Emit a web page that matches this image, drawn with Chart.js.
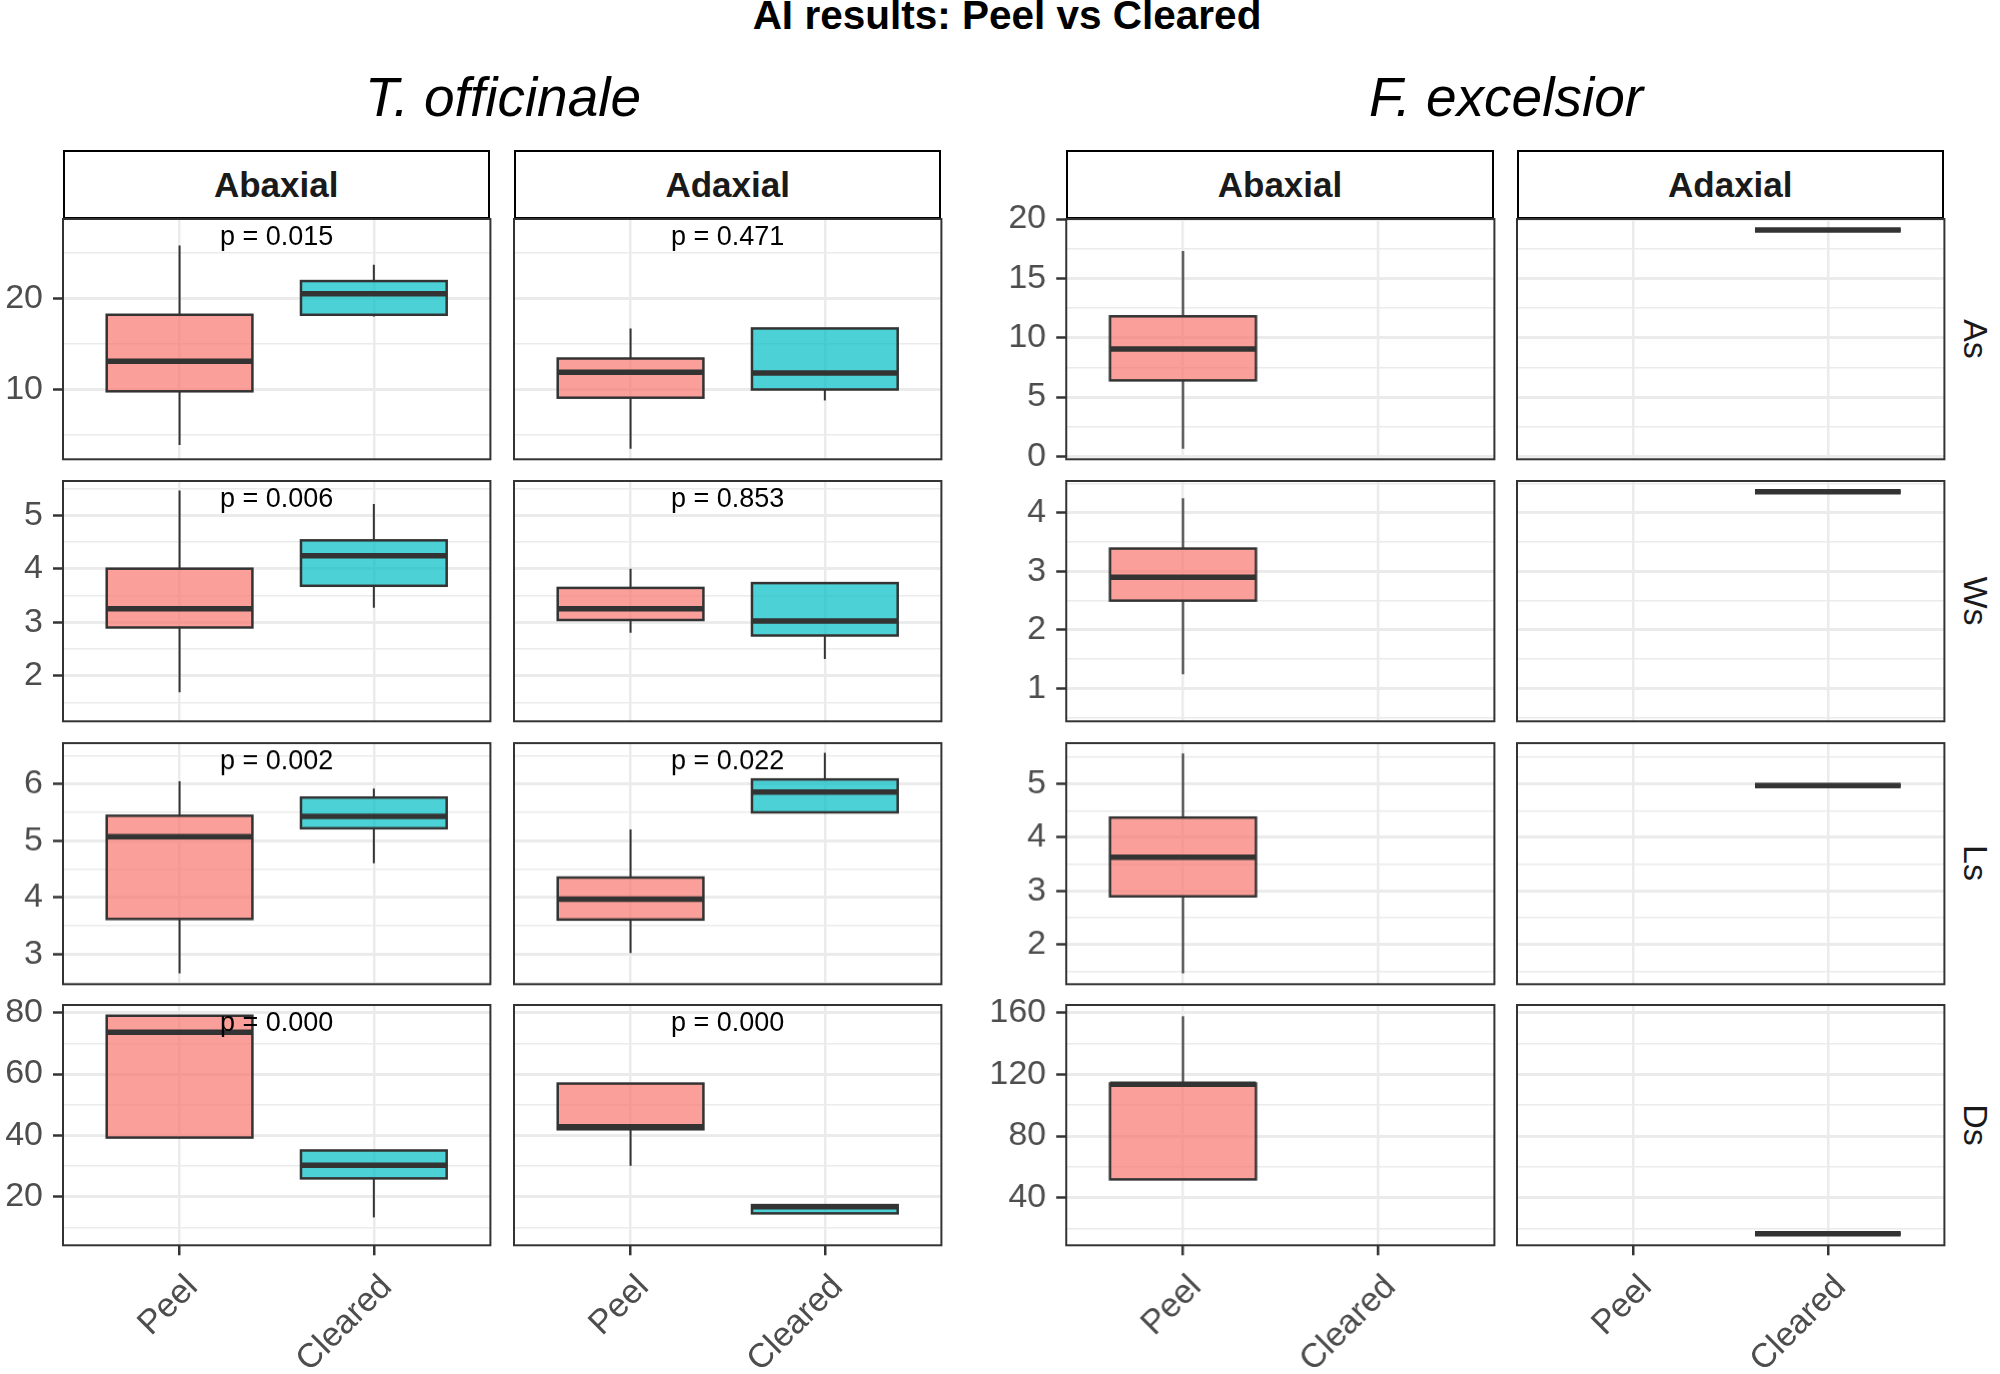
<!DOCTYPE html>
<html>
<head>
<meta charset="utf-8">
<title>AI results: Peel vs Cleared</title>
<script src="https://cdn.jsdelivr.net/npm/chart.js"></script>
<style>
  body { margin: 0; width: 2000px; height: 1374px; position: relative; overflow: hidden; background: #fff;
         font-family: "Liberation Sans", Arial, sans-serif; }
  .cell { position: absolute; }
  .txt { position: absolute; line-height: 1; white-space: nowrap; transform: translateX(-50%); }
  .strip { position: absolute; box-sizing: border-box; top: 150px; height: 69px; background: #fff;
           border: 2px solid #000; border-bottom-width: 2px; color: #1a1a1a; font-weight: bold; font-size: 35px;
           display: flex; align-items: center; justify-content: center; }
  .rowlab { position: absolute; font-size: 34px; color: #1a1a1a; line-height: 1; white-space: nowrap;
            transform: translate(-50%, -50%) rotate(90deg); }
</style>
</head>
<body>
<div class="txt" style="left:1007px; top:-5px; font-size:40.5px; font-weight:bold; color:#000;">AI results: Peel vs Cleared</div>
<div class="txt" style="left:503px; top:70px; font-size:55px; font-style:italic; color:#000;">T. officinale</div>
<div class="txt" style="left:1506px; top:70px; font-size:55px; font-style:italic; color:#000;">F. excelsior</div>

<script>
const metrics = ['As', 'Ws', 'Ls', 'Ds'];
const methods = ['Peel', 'Cleared'];
const sides = ['Abaxial', 'Adaxial'];

// five-number summaries [min, q1, median, q3, max], one per metric (As, Ws, Ls, Ds)
const offAbaxialPeel    = [[3.9, 9.8, 13.1, 18.2, 25.8], [1.69, 2.9, 3.25, 4.0, 5.46], [2.66, 3.62, 5.07, 5.44, 6.05], [39.3, 39.3, 73.6, 79.0, 79.0]];
const offAbaxialCleared = [[18.0, 18.2, 20.5, 21.9, 23.7], [3.27, 3.68, 4.24, 4.53, 5.21], [4.6, 5.22, 5.43, 5.76, 5.92], [13.3, 26.0, 30.3, 35.1, 35.1]];
const offAdaxialPeel    = [[3.5, 9.1, 11.9, 13.4, 16.7], [2.8, 3.04, 3.25, 3.64, 4.0], [3.02, 3.61, 3.97, 4.35, 5.2], [30.1, 42.0, 42.8, 56.9, 56.9]];
const offAdaxialCleared = [[8.8, 10.0, 11.8, 16.7, 16.7], [2.31, 2.75, 3.02, 3.73, 3.73], [5.5, 5.5, 5.86, 6.08, 6.55], [14.6, 14.6, 16.8, 17.3, 17.3]];
const excAbaxialPeel    = [[0.63, 6.4, 9.05, 11.8, 17.3], [1.24, 2.5, 2.9, 3.39, 4.25], [1.46, 2.9, 3.63, 4.37, 5.57], [51.9, 51.9, 113.5, 114.0, 157.6]];
const excAdaxialCleared = [[19.08, 19.08, 19.08, 19.08, 19.08], [4.36, 4.36, 4.36, 4.36, 4.36], [4.97, 4.97, 4.97, 4.97, 4.97], [16.7, 16.7, 16.7, 16.7, 16.7]];

// p values printed on the T. officinale panels
const offAbaxialP = ['0.015', '0.006', '0.002', '0.000'];
const offAdaxialP = ['0.471', '0.853', '0.022', '0.000'];

// labelled y breaks per row
const offTicks = [[10, 20], [2, 3, 4, 5], [3, 4, 5, 6], [20, 40, 60, 80]];
const excTicks = [[0, 5, 10, 15, 20], [1, 2, 3, 4], [2, 3, 4, 5], [40, 80, 120, 160]];
// y limits per row (ggplot expanded range)
const offRange = [[2.34, 28.71], [1.145, 5.64], [2.47, 6.72], [4.2, 82.5]];
const excRange = [[-0.25, 20.0], [0.437, 4.545], [1.26, 5.76], [9.2, 164.9]];

const FONT = '"Liberation Sans", Arial, sans-serif';
const peelFill = 'rgba(248, 118, 109, 0.7)';
const clearedFill = 'rgba(0, 191, 196, 0.7)';

// page layout
const colLeft = [62.5, 514, 1066.3, 1516.6];
const rowTop = [219, 481, 743.3, 1004.7];
const panelW = 427.4, panelH = 240.3;

Chart.defaults.font.family = FONT;

const boxPlugin = {
  id: 'boxes',
  afterDatasetsDraw(chart) {
    const { ctx, scales: { x, y } } = chart;
    chart.data.datasets.forEach(ds => {
      ds.data.forEach(pt => {
        const [lo, q1, med, q3, hi] = pt.stats;
        const cx = x.getPixelForValue(pt.x);
        const x0 = x.getPixelForValue(pt.x - 0.375);
        const x1 = x.getPixelForValue(pt.x + 0.375);
        const yt = y.getPixelForValue(q3), yb = y.getPixelForValue(q1);
        ctx.save();
        ctx.strokeStyle = '#333333';
        ctx.lineWidth = 2;
        ctx.beginPath();
        ctx.moveTo(cx, y.getPixelForValue(hi)); ctx.lineTo(cx, yt);
        ctx.moveTo(cx, yb); ctx.lineTo(cx, y.getPixelForValue(lo));
        ctx.stroke();
        ctx.fillStyle = ds.boxColor;
        ctx.fillRect(x0, yt, x1 - x0, yb - yt);
        ctx.lineWidth = 2.5;
        ctx.strokeRect(x0, yt, x1 - x0, yb - yt);
        const ym = y.getPixelForValue(med);
        ctx.lineWidth = 5.5;
        ctx.beginPath(); ctx.moveTo(x0, ym); ctx.lineTo(x1, ym); ctx.stroke();
        ctx.restore();
      });
    });
  }
};

const pLabelPlugin = {
  id: 'pLabel',
  afterDatasetsDraw(chart, args, opts) {
    if (!opts.text) return;
    const { ctx, chartArea, scales: { x } } = chart;
    ctx.save();
    ctx.font = '27px ' + FONT;
    ctx.fillStyle = '#000';
    ctx.textAlign = 'center';
    ctx.textBaseline = 'alphabetic';
    ctx.fillText(opts.text, x.getPixelForValue(1.5), chartArea.top + 26);
    ctx.restore();
  }
};

const borderPlugin = {
  id: 'panelBorder',
  afterDraw(chart) {
    const { ctx, chartArea: a } = chart;
    ctx.save();
    ctx.strokeStyle = '#333333';
    ctx.lineWidth = 2;
    ctx.strokeRect(a.left, a.top, a.right - a.left, a.bottom - a.top);
    ctx.restore();
  }
};

const panels = [
  { col: 0, side: 0, peel: offAbaxialPeel, cleared: offAbaxialCleared, p: offAbaxialP, ticks: offTicks, range: offRange },
  { col: 1, side: 1, peel: offAdaxialPeel, cleared: offAdaxialCleared, p: offAdaxialP, ticks: offTicks, range: offRange },
  { col: 2, side: 0, peel: excAbaxialPeel, cleared: null, p: null, ticks: excTicks, range: excRange },
  { col: 3, side: 1, peel: null, cleared: excAdaxialCleared, p: null, ticks: excTicks, range: excRange }
];

function makeChart(pn, r) {
  const showY = pn.col === 0 || pn.col === 2;
  const showX = r === metrics.length - 1;
  const yW = showY ? 100 : 0, xH = showX ? 140 : 0, pad = 30;
  const L = colLeft[pn.col], T = rowTop[r];

  const div = document.createElement('div');
  div.className = 'cell';
  div.style.left = (L - yW - pad) + 'px';
  div.style.top = (T - pad) + 'px';
  div.style.width = (panelW + yW + 2 * pad) + 'px';
  div.style.height = (panelH + xH + 2 * pad) + 'px';
  const cv = document.createElement('canvas');
  div.appendChild(cv);
  document.body.appendChild(div);

  const datasets = [];
  if (pn.peel) datasets.push({ label: methods[0], boxColor: peelFill, data: [{ x: 1, y: pn.peel[r][2], stats: pn.peel[r] }] });
  if (pn.cleared) datasets.push({ label: methods[1], boxColor: clearedFill, data: [{ x: 2, y: pn.cleared[r][2], stats: pn.cleared[r] }] });

  const major = pn.ticks[r];
  const [yMin, yMax] = pn.range[r];
  const step = major[1] - major[0];

  new Chart(cv, {
    type: 'scatter',
    data: { datasets },
    options: {
      responsive: true,
      maintainAspectRatio: false,
      animation: false,
      events: [],
      layout: { padding: pad },
      elements: { point: { radius: 0, hoverRadius: 0 } },
      plugins: {
        legend: { display: false },
        tooltip: { enabled: false },
        pLabel: { text: pn.p ? 'p = ' + pn.p[r] : null }
      },
      scales: {
        x: {
          type: 'linear', min: 0.4, max: 2.6, bounds: 'data',
          afterBuildTicks: s => { s.ticks = [{ value: 1 }, { value: 2 }]; },
          afterFit: s => { s.height = xH; s.paddingLeft = 0; s.paddingRight = 0; },
          grid: { color: '#EBEBEB', lineWidth: 2.5, drawTicks: showX, tickLength: 10, tickWidth: 2.5, tickColor: '#333333' },
          border: { display: false },
          ticks: {
            display: showX, autoSkip: false, minRotation: 45, maxRotation: 45, padding: 12, labelOffset: 13,
            color: '#4D4D4D', font: { family: FONT, size: 34 },
            callback: v => methods[v - 1]
          }
        },
        y: {
          type: 'linear', min: yMin, max: yMax, bounds: 'data',
          afterBuildTicks: s => {
            const vals = major.map(v => ({ value: v, minor: false }));
            for (let i = 0; i < major.length - 1; i++) vals.push({ value: (major[i] + major[i + 1]) / 2, minor: true });
            const below = major[0] - step / 2, above = major[major.length - 1] + step / 2;
            if (below >= yMin) vals.push({ value: below, minor: true });
            if (above <= yMax) vals.push({ value: above, minor: true });
            vals.sort((a, b) => a.value - b.value);
            s.ticks = vals;
          },
          afterFit: s => { s.width = yW; s.paddingTop = 0; s.paddingBottom = 0; },
          grid: {
            color: '#EBEBEB',
            lineWidth: c => (c.tick && c.tick.minor ? 1.5 : 3),
            drawTicks: showY, tickLength: 10, tickWidth: 2.5,
            tickColor: c => (c.tick && c.tick.minor ? 'rgba(0,0,0,0)' : '#333333')
          },
          border: { display: false },
          ticks: {
            display: showY, autoSkip: false, padding: 10,
            color: '#4D4D4D', font: { family: FONT, size: 34 },
            callback: (v, i, ticks) => (ticks[i].minor ? '' : String(v))
          }
        }
      }
    },
    plugins: [boxPlugin, pLabelPlugin, borderPlugin]
  });
}

// facet strips (top row)
panels.forEach(pn => {
  const s = document.createElement('div');
  s.className = 'strip';
  s.style.left = colLeft[pn.col] + 'px';
  s.style.width = panelW + 'px';
  s.textContent = sides[pn.side];
  document.body.appendChild(s);
});

// row strip labels on the right
metrics.forEach((m, r) => {
  const d = document.createElement('div');
  d.className = 'rowlab';
  d.style.left = '1976px';
  d.style.top = (rowTop[r] + panelH / 2) + 'px';
  d.textContent = m;
  document.body.appendChild(d);
});

panels.forEach(pn => metrics.forEach((m, r) => makeChart(pn, r)));
</script>
</body>
</html>
